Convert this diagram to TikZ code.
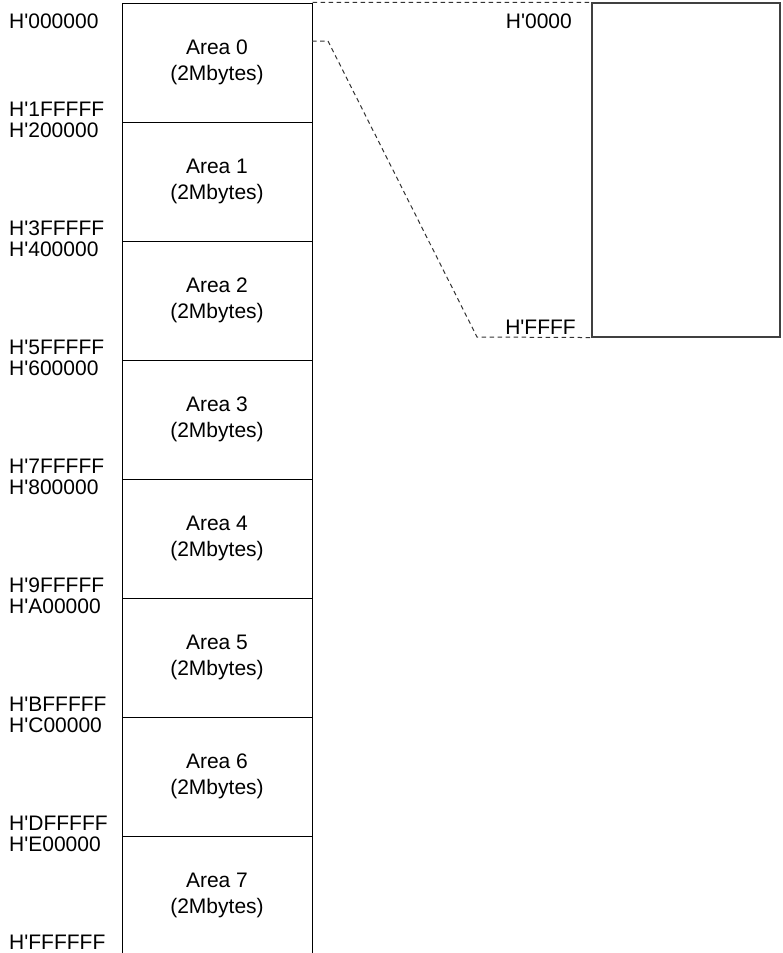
\documentclass[tikz,border=0pt]{standalone}
\usepackage{fontspec}
\setmainfont{Liberation Sans}
\newcommand{\ap}{\textquotesingle}
\begin{document}
\begin{tikzpicture}[x=1pt,y=-1pt,
  txt/.style={font=\fontsize{21}{26}\selectfont, inner sep=0pt},
  areabox/.style={draw=black, line width=1pt, minimum width=190pt, minimum height=119pt,
    align=center, inner sep=0pt, font=\fontsize{21}{26}\selectfont},
  membox/.style={draw=black!75, line width=1.1pt, inner sep=0pt},
  dashline/.style={draw=black!80, line width=1pt, dash pattern=on 4.5pt off 3.5pt}]
\useasboundingbox (0,0) rectangle (783,953);
% areas
\foreach \i in {0,...,7}{
  \node[areabox] (a\i) at (217, {3+119*\i+59.5}) {Area \i\\(2Mbytes)};
}
% address labels
\node[txt, anchor=base west] (l0t) at (9,28) {H\ap000000};
\node[txt, anchor=base west] (l0b) at (9,116) {H\ap1FFFFF};
\node[txt, anchor=base west] (l1t) at (9,137) {H\ap200000};
\node[txt, anchor=base west] (l1b) at (9,235) {H\ap3FFFFF};
\node[txt, anchor=base west] (l2t) at (9,256) {H\ap400000};
\node[txt, anchor=base west] (l2b) at (9,354) {H\ap5FFFFF};
\node[txt, anchor=base west] (l3t) at (9,375) {H\ap600000};
\node[txt, anchor=base west] (l3b) at (9,473) {H\ap7FFFFF};
\node[txt, anchor=base west] (l4t) at (9,494) {H\ap800000};
\node[txt, anchor=base west] (l4b) at (9,592) {H\ap9FFFFF};
\node[txt, anchor=base west] (l5t) at (9,613) {H\ap A00000};
\node[txt, anchor=base west] (l5b) at (9,711) {H\ap BFFFFF};
\node[txt, anchor=base west] (l6t) at (9,732) {H\ap C00000};
\node[txt, anchor=base west] (l6b) at (9,830) {H\ap DFFFFF};
\node[txt, anchor=base west] (l7t) at (9,851) {H\ap E00000};
\node[txt, anchor=base west] (l7b) at (9,949) {H\ap FFFFFF};
% right memory box
\node[membox, minimum width=188pt, minimum height=334pt] (mem) at (686,170) {};
\node[txt, anchor=base east] (m0) at (572,28) {H\ap0000};
\node[txt, anchor=base east] (m1) at (576,334) {H\ap FFFF};
% dashed connectors
\draw[dashline] (a0.north east) -- (mem.north west);
\coordinate (d0) at (312,41);
\coordinate (d1) at (328,41);
\coordinate (d2) at (477,337);
\draw[dashline] (d0) -- (d1) -- (d2) -- (mem.south west);
\end{tikzpicture}
\end{document}
